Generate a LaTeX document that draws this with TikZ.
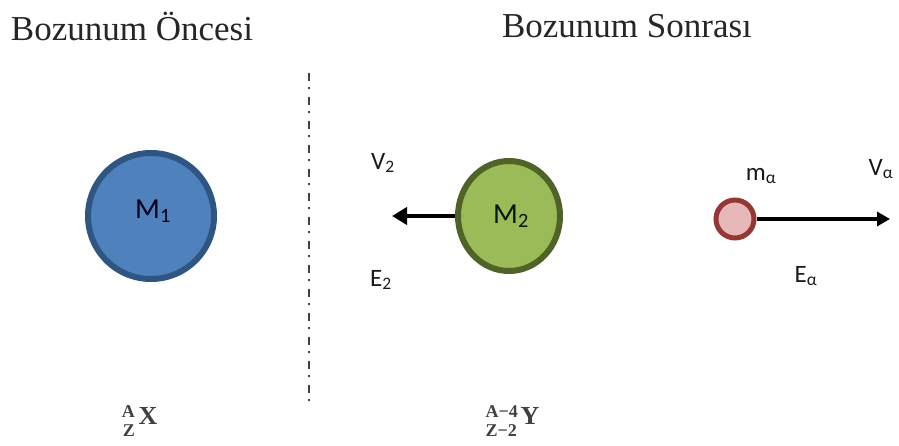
\documentclass[tikz,border=0pt]{standalone}
\usepackage{fontspec}
\setmainfont{Liberation Serif}
\newfontfamily\lblfont{Carlito}
\usetikzlibrary{arrows.meta}
\definecolor{blueFill}{HTML}{4F81BD}
\definecolor{blueEdge}{HTML}{2F5583}
\definecolor{greenFill}{HTML}{9BBB59}
\definecolor{greenEdge}{HTML}{4F6228}
\definecolor{pinkFill}{HTML}{E6B9B8}
\definecolor{redEdge}{HTML}{953735}
\tikzset{
  title/.style={font=\fontsize{35}{40}\selectfont, text=black!85, inner sep=0pt},
  lbl/.style={font=\lblfont\fontsize{25}{28}\selectfont, inner sep=0pt, text=black!90},
  mlbl/.style={font=\lblfont\fontsize{29}{32}\selectfont, inner sep=0pt, text=black!75!blue!40!black},
  nucbig/.style={font=\bfseries\fontsize{26}{30}\selectfont, inner sep=0pt, text=black!75},
  nucsmall/.style={font=\bfseries\fontsize{18}{20}\selectfont, inner sep=0pt, text=black!75},
  move/.style={line width=4.5pt, -{Triangle[length=15pt,width=17pt]}},
  movea/.style={line width=3.5pt, -{Triangle[length=13pt,width=14pt]}},
}
\begin{document}
\begin{tikzpicture}[x=1pt,y=-1pt]
\useasboundingbox (0,0) rectangle (899,446);
% titles
\node[title] (t1) at (132,26) {Bozunum Öncesi};
\node[title] (t2) at (627,26) {Bozunum Sonrası};
% divider
\coordinate (d1) at (309,73);
\coordinate (d2) at (309,408);
\draw[line width=1.3pt, black!75, dash pattern=on 8pt off 6pt on 2pt off 8pt] (d1) -- (d2);
% M1
\draw[line width=6pt, draw=blueEdge, fill=blueFill] (151,216) circle (63);
\node[mlbl] (m1) at (153,211) {M\textsubscript{1}};
% M2
\draw[line width=6pt, draw=greenEdge, fill=greenFill] (509,216) ellipse (51 and 55);
\node[mlbl, text=black!70!green!30!black] (m2) at (511,216) {M\textsubscript{2}};
\coordinate (m2w) at (455,216);
\coordinate (v2tip) at (392,216);
\draw[move] (m2w) -- (v2tip);
\node[lbl] (v2) at (383,163) {V\textsubscript{2}};
\node[lbl] (e2) at (381,280) {E\textsubscript{2}};
% alpha
\draw[line width=5pt, draw=redEdge, fill=pinkFill] (735,219) circle (19);
\coordinate (aw) at (757,219);
\coordinate (atip) at (890,219);
\draw[movea] (aw) -- (atip);
\node[lbl] (ma) at (761,176) {m\textsubscript{α}};
\node[lbl] (va) at (881,169) {V\textsubscript{α}};
\node[lbl] (ea) at (806,276) {E\textsubscript{α}};
% nuclear notation X
\node[nucbig] (X) at (148,416) {X};
\node[nucsmall, anchor=east] (XA) at (135,412) {A};
\node[nucsmall, anchor=east] (XZ) at (135,431) {Z};
% nuclear notation Y
\node[nucbig] (Y) at (530,416) {Y};
\node[nucsmall, anchor=east] (YA) at (518,412) {A−4};
\node[nucsmall, anchor=east] (YZ) at (517,431) {Z−2};
\end{tikzpicture}
\end{document}
